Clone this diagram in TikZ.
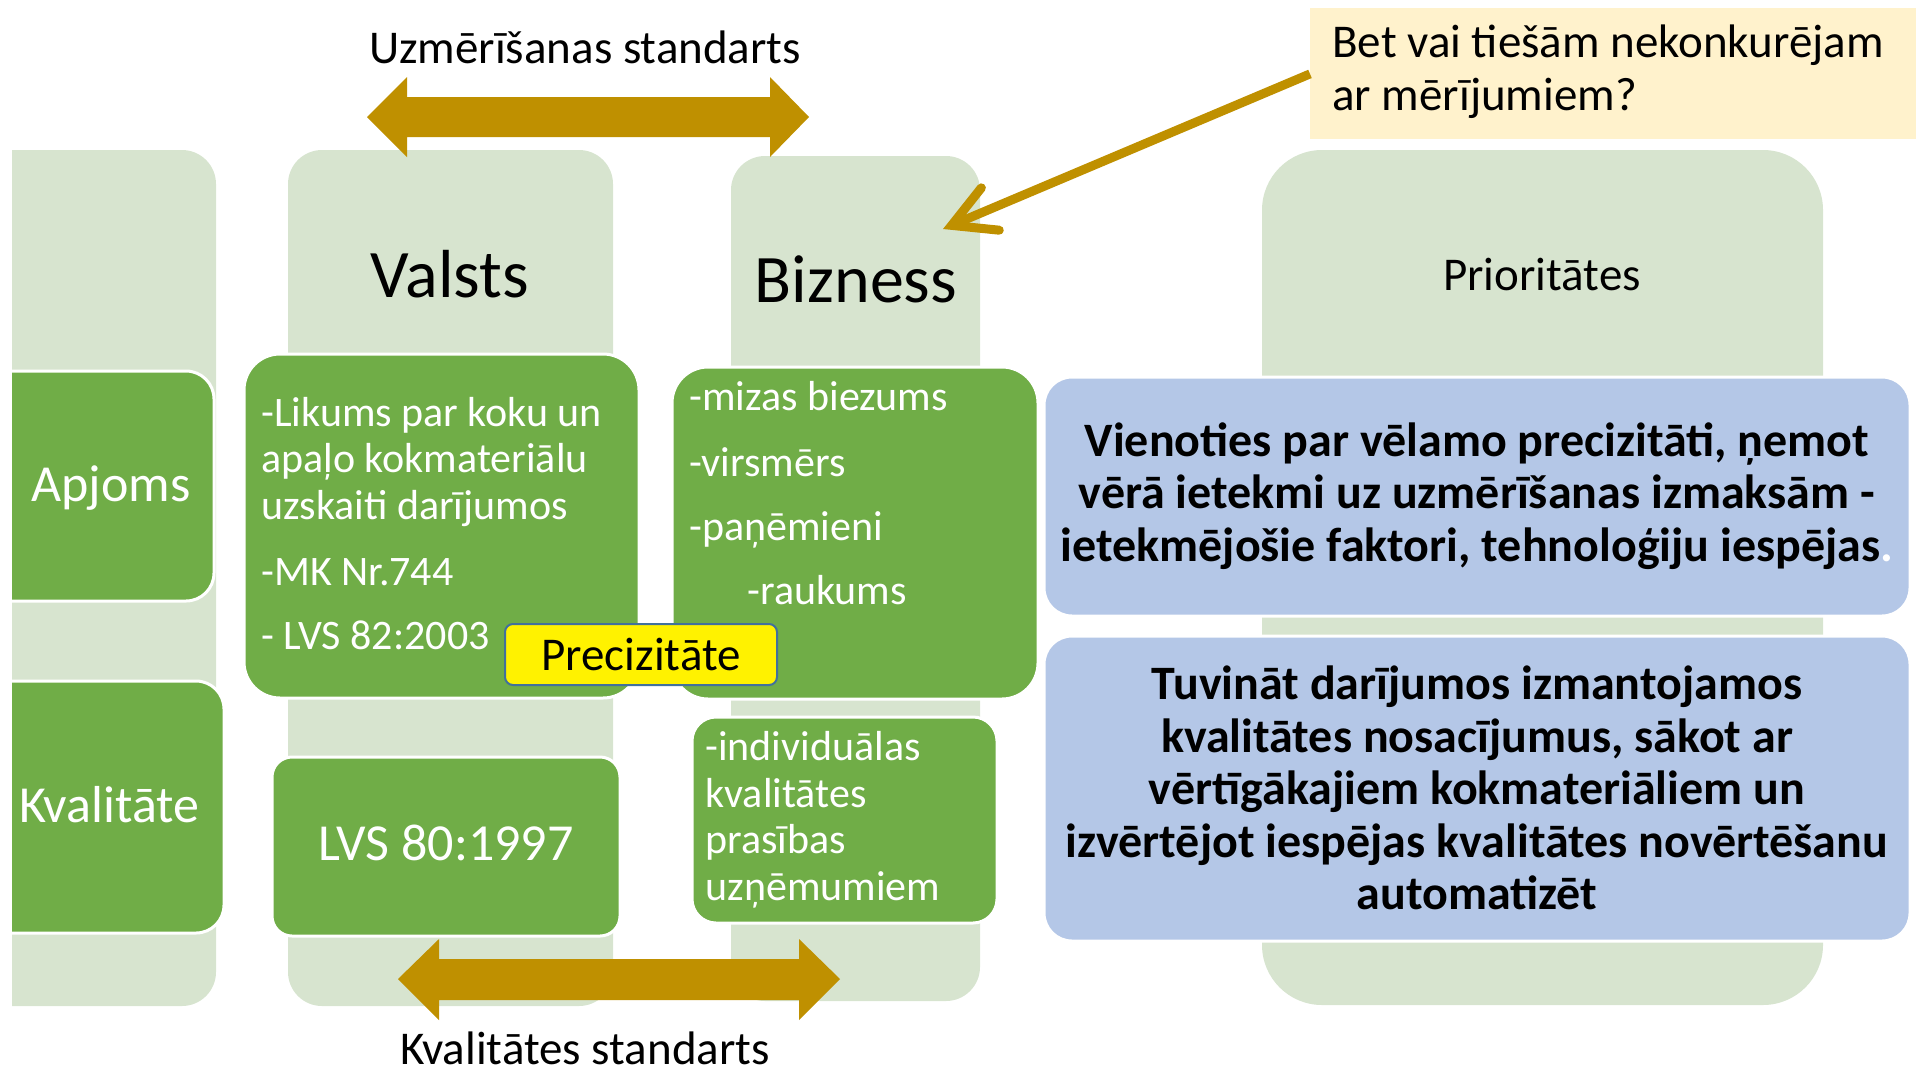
\documentclass[tikz,border=0pt]{standalone}
\usepackage{fontspec}
\setmainfont{Carlito}
\usetikzlibrary{arrows.meta}
\definecolor{lgreen}{HTML}{D7E4CF}
\definecolor{mgreen}{HTML}{70AD47}
\definecolor{lblue}{HTML}{B4C7E7}
\definecolor{gold}{HTML}{BF9000}
\definecolor{cream}{HTML}{FFF2CC}
\definecolor{ybord}{HTML}{41719C}
\begin{document}
\begin{tikzpicture}[x=0.5pt,y=-0.5pt,
  col/.style={fill=lgreen},
  gbox/.style={fill=mgreen, draw=white, line width=1.5pt},
  bbox/.style={fill=lblue, draw=white, line width=1.5pt, rounded corners=14pt},
  blockarrow/.style={fill=gold},
  wtxt/.style={text=white, inner sep=0pt, font=\fontsize{21}{23.5}\selectfont},
  btxt/.style={text=black, inner sep=0pt, font=\fontsize{23.5}{26}\selectfont},
  bigtxt/.style={text=black, inner sep=0pt, font=\fontsize{34}{40}\selectfont},
  sidetxt/.style={text=white, inner sep=0pt, font=\fontsize{26}{30}\selectfont},
  bluetxt/.style={text=black, inner sep=0pt, align=center, font=\fontsize{24}{26.25}\selectfont\bfseries}
]
\useasboundingbox (0,0) rectangle (1916,1072);

% light green columns
\begin{scope}
  \clip (12,0) rectangle (1916,1072);
  \fill[col, rounded corners=17pt] (-60,150) rectangle (216,1006);
\end{scope}
\fill[col, rounded corners=17pt] (288,150) rectangle (613,1006);
\fill[col, rounded corners=17pt] (731,156) rectangle (980,1001);
\fill[col, rounded corners=30pt] (1262,150) rectangle (1823,1005);

% row boxes on the left
\begin{scope}
  \clip (12,0) rectangle (1916,1072);
  \draw[gbox, rounded corners=14pt] (-60,371) rectangle (214,601);
  \draw[gbox, rounded corners=14pt] (-60,681) rectangle (224,933);
\end{scope}

% green content boxes
\draw[gbox, rounded corners=18pt] (244,354) rectangle (639,698);
\draw[gbox, rounded corners=18pt] (672,367) rectangle (1038,699);
\draw[gbox, rounded corners=10pt] (272,757) rectangle (620,936);
\draw[gbox, rounded corners=12pt] (692,717) rectangle (997,923);

% blue boxes
\draw[bbox] (1044,377) rectangle (1910,616);
\draw[bbox] (1044,636) rectangle (1910,941);

% block arrows
\fill[blockarrow] (367,117) -- (407,77) -- (407,97) -- (770,97) -- (770,77) -- (809,117)
  -- (770,157) -- (770,137) -- (407,137) -- (407,157) -- cycle;
\fill[blockarrow] (398,979) -- (439,939) -- (439,959) -- (799,959) -- (799,939) -- (840,979)
  -- (799,1020) -- (799,1000) -- (439,1000) -- (439,1020) -- cycle;

% callout
\node[fill=cream, inner sep=0pt, minimum width=303pt, minimum height=65.5pt, anchor=north west] (callout) at (1310,8) {};
\coordinate (tip) at (943,229);
\draw[gold, line width=4.5pt, -{Straight Barb[length=21pt, width=23pt, line cap=round, line join=miter]}] (callout.west) -- (tip);
\node[btxt, anchor=base west] (q1) at (1332,57) {Bet vai tiešām nekonkurējam};
\node[btxt, anchor=base west] (q2) at (1332,110) {ar mērījumiem?};

% labels
\node[btxt, anchor=base] (uzm) at (585,63) {Uzmērīšanas standarts};
\node[btxt, anchor=base] (kvs) at (585,1064) {Kvalitātes standarts};

% headers
\node[bigtxt, anchor=base] (valsts) at (450,297) {Valsts};
\node[bigtxt, anchor=base] (bizness) at (856,302) {Bizness};
\node[btxt, anchor=base] (prio) at (1542,290) {Prioritātes};

% row labels
\node[sidetxt, anchor=base] (apjoms) at (111,501) {Apjoms};
\node[sidetxt, anchor=base west] (kval) at (19,822) {Kvalitāte};

% Valsts box texts
\node[wtxt, anchor=base west] (v1) at (261,426) {-Likums par koku un};
\node[wtxt, anchor=base west] (v2) at (261,472) {apaļo kokmateriālu};
\node[wtxt, anchor=base west] (v3) at (261,519) {uzskaiti darījumos};
\node[wtxt, anchor=base west] (v4) at (261,585) {-MK Nr.744};
\node[wtxt, anchor=base west] (v5) at (261,649) {- LVS 82:2003};
\node[sidetxt, anchor=base] (lvs) at (446,860) {LVS 80:1997};

% Bizness box texts
\node[wtxt, anchor=base west] (b1) at (689,410) {-mizas biezums};
\node[wtxt, anchor=base west] (b2) at (689,476) {-virsmērs};
\node[wtxt, anchor=base west] (b3) at (689,540) {-paņēmieni};
\node[wtxt, anchor=base west] (b4) at (747,604) {-raukums};
\node[wtxt, anchor=base west] (i1) at (705,760) {-individuālas};
\node[wtxt, anchor=base west] (i2) at (705,807) {kvalitātes};
\node[wtxt, anchor=base west] (i3) at (705,853) {prasības};
\node[wtxt, anchor=base west] (i4) at (705,900) {uzņēmumiem};

% Precizitāte
\node[fill=yellow, draw=ybord, line width=1pt, rounded corners=4pt, inner sep=0pt,
  minimum width=136pt, minimum height=30.5pt, font=\fontsize{23.5}{26}\selectfont] (prec) at (641,654.5) {Precizitāte};

% blue texts
\node[bluetxt] (blue1) at (1477,496) {Vienoties par vēlamo precizitāti, ņemot\\vērā ietekmi uz uzmērīšanas izmaksām -\\ietekmējošie faktori, tehnoloģiju iespējas\textcolor{white}{.}};
\node[bluetxt] (blue2) at (1477,788) {Tuvināt darījumos izmantojamos\\kvalitātes nosacījumus, sākot ar\\vērtīgākajiem kokmateriāliem un\\izvērtējot iespējas kvalitātes novērtēšanu\\automatizēt};
\end{tikzpicture}
\end{document}
